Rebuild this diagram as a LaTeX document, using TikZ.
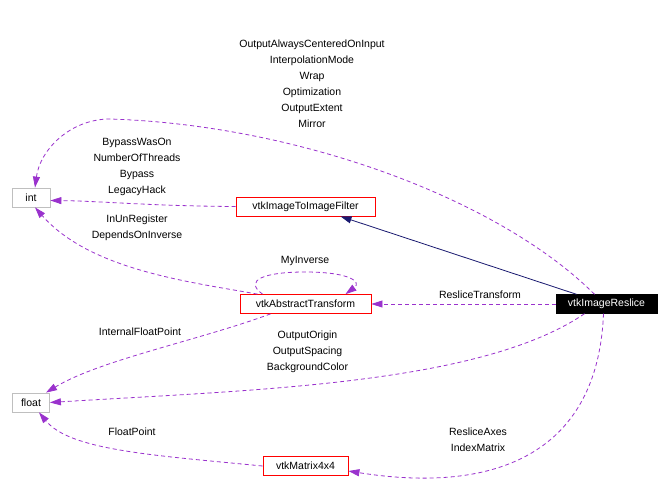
\documentclass[tikz,border=0pt]{standalone}
\usepackage{fontspec}
\setmainfont{Liberation Sans}
\usetikzlibrary{arrows.meta}
\definecolor{edgepurple}{HTML}{9A32CD}
\definecolor{inhblue}{HTML}{191970}
\definecolor{boxgray}{HTML}{BFBFBF}
\begin{document}
\begin{tikzpicture}[x=1pt,y=-1pt, font=\fontsize{10.5}{16}\selectfont,
  cls/.style={draw=red, fill=white, line width=0.8pt, inner sep=0pt, minimum height=19pt},
  ext/.style={draw=boxgray, fill=white, line width=0.8pt, inner sep=0pt, minimum height=19pt},
  mainbox/.style={draw=black, fill=black, text=white, inner sep=0pt, minimum height=19pt},
  use/.style={draw=edgepurple, dash pattern=on 4pt off 3pt, line width=0.8pt, -{Triangle[length=11pt,width=7pt]}},
  inh/.style={draw=inhblue, line width=0.8pt, -{Triangle[length=11pt,width=7pt]}},
  lbl/.style={align=center, inner sep=0pt}]
\useasboundingbox[fill=white] (0,0) rectangle (672,498);

\node[ext, minimum width=38pt] (int) at (31,197.5) {int};
\node[cls, minimum width=139pt] (filter) at (305.5,206.5) {vtkImageToImageFilter};
\node[cls, minimum width=131pt] (abstract) at (305.5,304) {vtkAbstractTransform};
\node[mainbox, minimum width=101pt] (reslice) at (606.5,304) {vtkImageReslice};
\node[ext, minimum width=37pt] (float) at (31,402.5) {float};
\node[cls, minimum width=85pt] (matrix) at (305.5,466) {vtkMatrix4x4};

% edges
\draw[use] ([xshift=-12pt]reslice.north) .. controls (500,200) and (300,125) .. (110,119) .. controls (70,119) and (40,150) .. ([xshift=4pt]int.north);
\draw[use] (filter.west) .. controls (150,206) and (100,201) .. ([yshift=-3pt]int.east);
\draw[use] ([xshift=-48pt]abstract.north) .. controls (190,282) and (90,270) .. ([xshift=4pt]int.south);
\draw[inh] ([xshift=-30pt]reslice.north) -- ([xshift=35pt]filter.south);
\draw[use] ([xshift=-43pt]abstract.north) .. controls (243,280) and (265,272) .. (305,272) .. controls (350,272) and (362,282) .. ([xshift=40pt]abstract.north);
\draw[use] (reslice.west) -- (abstract.east);
\draw[use] ([xshift=-35pt]abstract.south) .. controls (200,340) and (100,360) .. ([xshift=15pt]float.north);
\draw[use] ([xshift=-22pt]reslice.south) .. controls (480,385) and (250,390) .. (float.east);
\draw[use] (matrix.west) .. controls (150,455) and (70,450) .. ([xshift=8pt]float.south);
\draw[use] ([xshift=-3pt]reslice.south) .. controls (598,450) and (500,495) .. ([yshift=-5pt]matrix.east);

% labels
\node[lbl] (l1) at (312,83.3) {OutputAlwaysCenteredOnInput\\InterpolationMode\\Wrap\\Optimization\\OutputExtent\\Mirror};
\node[lbl] (l2) at (137,167) {BypassWasOn\\NumberOfThreads\\Bypass\\LegacyHack};
\node[lbl] (l3) at (137,228) {InUnRegister\\DependsOnInverse};
\node[lbl] (l4) at (305,261) {MyInverse};
\node[lbl] (l5) at (480,295) {ResliceTransform};
\node[lbl] (l6) at (140,332) {InternalFloatPoint};
\node[lbl] (l7) at (307.5,352) {OutputOrigin\\OutputSpacing\\BackgroundColor};
\node[lbl] (l8) at (132,432) {FloatPoint};
\node[lbl] (l9) at (478,440) {ResliceAxes\\IndexMatrix};
\end{tikzpicture}
\end{document}
